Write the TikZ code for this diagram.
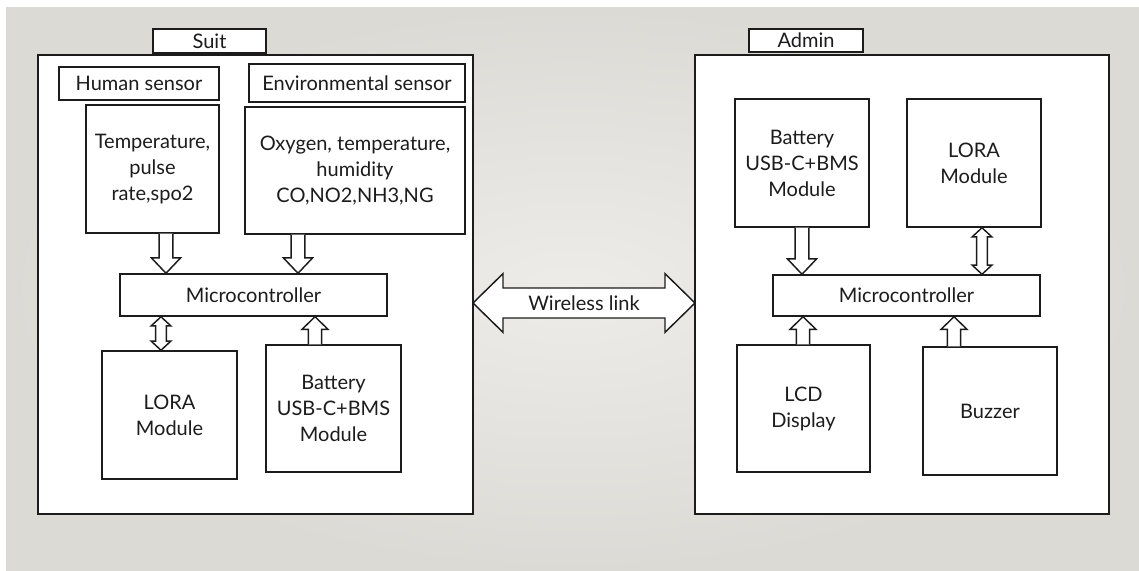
\documentclass[tikz,border=0pt]{standalone}
\usepackage{fontspec}
\setmainfont{Lato}
\usetikzlibrary{calc}

\definecolor{bgmid}{HTML}{EDECE9}
\definecolor{bgedge}{HTML}{DCDAD5}
\definecolor{ink}{HTML}{1C1C1C}

% box given by its corners in pixel units: name, x1, y1, x2, y2, text
\newcommand\bx[6]{%
  \node[box, minimum width={(#4-#2)*0.75pt}, minimum height={(#5-#3)*0.75pt}]
    (#1) at ({(#2+#4)/2},{(#3+#5)/2}) {#6};}

% hollow block arrow pointing down: x coordinate, from node, to node
\newcommand\arrdown[3]{%
  \draw[blk] let \p1=(#1|-#2.south), \p2=(#1|-#3.north) in
    (\x1-5.2pt,\y1) -- (\x1-5.2pt,\y2+11.5pt) -- (\x1-10.9pt,\y2+11.5pt)
    -- (\x1,\y2) -- (\x1+10.9pt,\y2+11.5pt) -- (\x1+5.2pt,\y2+11.5pt)
    -- (\x1+5.2pt,\y1);}

% hollow block arrow pointing up: x coordinate, from node (below), to node
\newcommand\arrup[3]{%
  \draw[blk] let \p1=(#1|-#2.north), \p2=(#1|-#3.south) in
    (\x1-4.9pt,\y1) -- (\x1-4.9pt,\y2-9.5pt) -- (\x1-9.8pt,\y2-9.5pt)
    -- (\x1,\y2) -- (\x1+9.8pt,\y2-9.5pt) -- (\x1+4.9pt,\y2-9.5pt)
    -- (\x1+4.9pt,\y1);}

% hollow double block arrow, vertical: x coordinate, upper node, lower node
\newcommand\arrboth[3]{%
  \draw[blk] let \p1=(#1|-#2.south), \p2=(#1|-#3.north) in
    (\x1,\y1) -- (\x1+7.3pt,\y1-6.8pt) -- (\x1+4pt,\y1-6.8pt)
    -- (\x1+4pt,\y2+6.8pt) -- (\x1+7.3pt,\y2+6.8pt) -- (\x1,\y2)
    -- (\x1-7.3pt,\y2+6.8pt) -- (\x1-4pt,\y2+6.8pt)
    -- (\x1-4pt,\y1-6.8pt) -- (\x1-7.3pt,\y1-6.8pt) -- cycle;}

\begin{document}
\begin{tikzpicture}[x=0.75pt, y=-0.75pt,
  box/.style={draw=ink, fill=white, line width=1.1pt, inner sep=0pt,
    align=center, text=ink, font=\fontsize{15}{19.5}\selectfont},
  frame/.style={draw=ink, fill=white, line width=1.2pt},
  blk/.style={draw=ink, fill=white, line width=1.1pt, line join=miter}]

% page and background
\useasboundingbox (0,0) rectangle (1139,571);
\fill[white] (0,0) rectangle (1139,571);
\shade[inner color=bgmid, outer color=bgedge] (6,7) rectangle (1139,571);

% ---------- Suit ----------
\draw[frame] (38,55) rectangle (473,514);
\coordinate (suitE) at (473,303);
\bx{suitlbl}{153}{29}{266}{53}{Suit}
\bx{humlbl}{59}{67}{219}{100}{Human sensor}
\bx{envlbl}{249}{64}{465}{102}{Environmental sensor}
\bx{hum}{86}{105}{219}{233}{Temperature,\\pulse\\rate,spo2}
\bx{env}{245}{107}{465}{234}{Oxygen, temperature,\\humidity\\CO,NO2,NH3,NG}
\bx{mcu}{120}{274}{387}{316}{Microcontroller}
\bx{lora}{102}{351}{237}{479}{LORA\\Module}
\bx{bat}{266}{345}{401}{472}{Battery\\USB-C+BMS\\Module}

\coordinate (xa) at (166,0);
\coordinate (xb) at (298,0);
\coordinate (xc) at (161,0);
\coordinate (xd) at (315,0);
\arrdown{xa}{hum}{mcu}
\arrdown{xb}{env}{mcu}
\arrboth{xc}{mcu}{lora}
\arrup{xd}{bat}{mcu}

% ---------- Admin ----------
\draw[frame] (695,55) rectangle (1109,514);
\coordinate (adminW) at (695,303);
\bx{adminlbl}{749}{29}{863}{52}{Admin}
\bx{abat}{735}{99}{869}{227}{Battery\\USB-C+BMS\\Module}
\bx{alora}{907}{99}{1041}{227}{LORA\\Module}
\bx{amcu}{773}{275}{1040}{316}{Microcontroller}
\bx{lcd}{737}{345}{870}{472}{LCD\\Display}
\bx{buz}{923}{347}{1057}{475}{Buzzer}

\coordinate (xe) at (802,0);
\coordinate (xf) at (982,0);
\coordinate (xg) at (803,0);
\coordinate (xh) at (954,0);
\arrdown{xe}{abat}{amcu}
\arrboth{xf}{alora}{amcu}
\arrup{xg}{lcd}{amcu}
\arrup{xh}{buz}{amcu}

% ---------- wireless link ----------
\draw[blk] let \p1=(suitE), \p2=(adminW) in
  (\x1,\y1) -- (\x1+22.5pt,\y1+22pt) -- (\x1+22.5pt,\y1+11.25pt)
  -- (\x2-22.5pt,\y1+11.25pt) -- (\x2-22.5pt,\y1+22pt) -- (\x2,\y2)
  -- (\x2-22.5pt,\y1-22pt) -- (\x2-22.5pt,\y1-11.25pt)
  -- (\x1+22.5pt,\y1-11.25pt) -- (\x1+22.5pt,\y1-22pt) -- cycle;
\node[text=ink, font=\fontsize{15}{19.5}\selectfont] (wl) at ($(suitE)!0.5!(adminW)$) {Wireless link};
\end{tikzpicture}
\end{document}
